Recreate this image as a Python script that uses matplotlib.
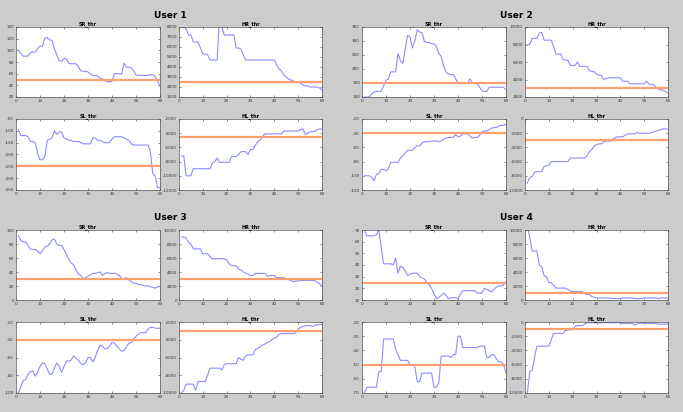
import numpy as np
import matplotlib

matplotlib.use("Agg")

import matplotlib.pyplot as plt

plt.rcParams["axes.unicode_minus"] = False

# sample index
x = np.arange(1, 61)

# ---- User 1
u1_sr = [100, 95, 90, 90, 90, 96, 97, 97, 103, 107, 107, 121, 122, 118, 117, 103, 92, 82, 81, 86,
         85, 78, 77, 77, 77, 72, 65, 64, 64, 63, 59, 57, 57, 56, 52, 51, 48, 46, 46, 47,
         60, 60, 60, 59, 78, 71, 71, 70, 65, 58, 57, 57, 57, 57, 57, 58, 58, 55, 48, 38]
u1_hr = [9000, 8000, 7800, 7200, 7200, 6500, 6500, 6500, 5900, 5300, 5300, 5200, 4700, 4700, 4700,
         4700, 9000, 8000, 7200, 7200, 7200, 7200, 7200, 5900, 5900, 5800, 5200, 4700, 4700, 4700,
         4700, 4700, 4700, 4700, 4700, 4700, 4700, 4700, 4700, 4700, 4200, 3800, 3600, 3200, 3000,
         2800, 2700, 2600, 2500, 2500, 2400, 2200, 2100, 2100, 2000, 2000, 2000, 2000, 1900, 1700]
u1_sl = [-95, -120, -120, -120, -125, -145, -145, -150, -195, -222, -222, -210, -140, -135, -130,
         -100, -115, -105, -105, -130, -135, -140, -140, -145, -145, -145, -150, -155, -155, -155,
         -155, -130, -130, -140, -140, -145, -150, -150, -150, -135, -125, -125, -125, -125, -130,
         -135, -140, -155, -160, -160, -160, -160, -160, -160, -160, -190, -280, -290, -340, -340]
u1_hl = [-7200, -7200, -10000, -10000, -10000, -9000, -9000, -9000, -9000, -9000, -9000, -9000,
         -9000, -8200, -8000, -7500, -8100, -8100, -8100, -8100, -8100, -7300, -7300, -7300, -7000,
         -6600, -6600, -6600, -7000, -6300, -6300, -5700, -5200, -5000, -4500, -4100, -4100, -4100,
         -4100, -4100, -4100, -4100, -4100, -3700, -3700, -3700, -3700, -3700, -3700, -3700, -3500,
         -3400, -4200, -4000, -3800, -3800, -3700, -3500, -3400, -3400]

# ---- User 2
u2_sr = [100, 100, 100, 110, 118, 120, 120, 120, 140, 160, 165, 190, 190, 190, 255, 230, 220, 270,
         320, 315, 275, 300, 340, 332, 330, 298, 295, 295, 290, 290, 280, 255, 245, 210, 190, 182,
         180, 180, 165, 150, 148, 148, 148, 150, 165, 150, 148, 148, 135, 122, 120, 120, 135, 135,
         135, 135, 135, 135, 135, 125]
u2_hr = [8000, 8000, 8700, 8700, 8700, 9300, 9400, 8500, 8500, 8500, 8500, 7800, 6900, 6900, 6900,
         6300, 6200, 6200, 5600, 5600, 5600, 6000, 5500, 5500, 5500, 5500, 5000, 4900, 4900, 4600,
         4500, 4500, 4000, 4100, 4200, 4200, 4200, 4200, 4200, 4200, 3800, 3800, 3800, 3500, 3500,
         3500, 3500, 3500, 3500, 3500, 3800, 3500, 3400, 3400, 3100, 2900, 2800, 2800, 2600, 2400]
u2_sl = [-100, -100, -100, -102, -107, -98, -97, -91, -91, -93, -90, -81, -81, -81, -81, -75, -72,
         -68, -64, -64, -64, -60, -58, -58, -54, -52, -52, -52, -51, -51, -51, -52, -51, -48, -47,
         -46, -46, -46, -42, -45, -44, -41, -41, -41, -44, -47, -46, -46, -43, -38, -37, -37, -35,
         -33, -32, -32, -30, -29, -29, -27]
u2_hl = [-9000, -8200, -8100, -7500, -7400, -7400, -7400, -6700, -6600, -6500, -6000, -6000, -6000,
         -6000, -6000, -6000, -6000, -6000, -5500, -5500, -5500, -5500, -5500, -5500, -5500, -5200,
         -4600, -4300, -3800, -3600, -3500, -3500, -3200, -3100, -3100, -3100, -2800, -2600, -2500,
         -2500, -2500, -2300, -2100, -2100, -2100, -2100, -1900, -2000, -2000, -2000, -2000, -2000,
         -1900, -1800, -1700, -1600, -1500, -1400, -1400, -1400]

# ---- User 3
u3_sr = [92, 85, 83, 83, 78, 73, 72, 72, 70, 66, 70, 76, 77, 80, 86, 87, 80, 78, 78, 72, 65, 58,
         53, 50, 43, 37, 35, 30, 32, 34, 36, 38, 38, 39, 40, 35, 38, 39, 38, 38, 38, 37, 35, 31,
         30, 32, 29, 26, 24, 24, 22, 22, 21, 20, 20, 19, 18, 17, 19, 19]
u3_hr = [9000, 9000, 8900, 8200, 8000, 7300, 7300, 7300, 7300, 6600, 6600, 6600, 6200, 5900, 5900,
         5900, 5900, 5900, 5900, 5700, 5200, 4900, 4900, 4900, 4400, 4300, 4000, 3800, 3700, 3500,
         3500, 3800, 3800, 3800, 3800, 3800, 3400, 3500, 3500, 3500, 3200, 3200, 3200, 3200, 3000,
         2900, 2800, 2600, 2700, 2700, 2800, 2800, 2800, 2800, 2800, 2800, 2800, 2500, 2300, 2000]
u3_sl = [-100, -93, -86, -85, -79, -76, -75, -81, -77, -70, -66, -67, -73, -79, -79, -72, -66, -70,
         -77, -70, -64, -64, -63, -58, -61, -63, -67, -68, -66, -60, -60, -65, -60, -52, -46, -47,
         -50, -50, -47, -43, -44, -47, -50, -53, -52, -48, -44, -43, -40, -36, -34, -32, -32, -32,
         -28, -26, -26, -27, -27, -27]
u3_hl = [-10000, -9700, -9000, -9000, -9000, -9000, -9700, -8700, -8700, -8700, -8700, -8000, -7200,
         -7200, -7200, -7200, -7200, -7400, -6800, -6700, -6700, -6700, -6700, -6700, -6000, -6200,
         -6300, -5800, -5700, -5700, -5700, -5100, -5000, -4800, -4600, -4500, -4300, -4200, -4000,
         -3800, -3700, -3400, -3300, -3300, -3300, -3300, -3300, -3300, -3200, -2800, -2600, -2500,
         -2400, -2400, -2400, -2500, -2400, -2300, -2300, -2300]

# ---- User 4
u4_sr = [70, 65, 65, 65, 65, 66, 70, 55, 41, 41, 41, 41, 40, 46, 33, 39, 38, 35, 31, 32, 33, 33,
         33, 30, 29, 28, 25, 23, 20, 15, 11, 12, 14, 16, 14, 11, 12, 12, 12, 11, 15, 18, 18, 18,
         18, 18, 18, 16, 16, 16, 20, 19, 18, 17, 19, 21, 22, 22, 23, 26]
u4_hr = [10500, 9000, 7000, 7000, 7000, 5000, 4800, 3500, 3300, 2500, 2500, 2100, 1700, 1700, 1700,
         1700, 1700, 1500, 1300, 1200, 1200, 1200, 1200, 1200, 900, 800, 800, 500, 400, 300, 300,
         300, 300, 300, 300, 250, 200, 200, 200, 200, 300, 300, 300, 300, 300, 200, 200, 200, 200,
         300, 300, 300, 300, 300, 300, 200, 300, 300, 300, 300]
u4_sl = [-70, -66, -66, -66, -66, -66, -55, -55, -32, -32, -32, -32, -32, -39, -43, -47, -47, -47,
         -47, -50, -50, -51, -62, -62, -56, -56, -56, -56, -56, -66, -66, -63, -44, -44, -44, -44,
         -45, -43, -43, -30, -30, -38, -38, -38, -38, -38, -38, -38, -37, -37, -37, -45, -45, -43,
         -43, -46, -48, -48, -50, -56]
u4_hl = [-10000, -7000, -6800, -5000, -3400, -3400, -3400, -3400, -3400, -3400, -2500, -1600, -1600,
         -1600, -1600, -1600, -1200, -1100, -1100, -1100, -600, -500, -500, -500, -300, -100, -100,
         -100, -100, -100, -100, -100, -100, -100, -100, -100, -100, -100, -100, -100, -200, -200,
         -200, -200, -200, -400, -300, -150, -150, -150, -200, -200, -200, -200, -200, -300, -300,
         -300, -300, -300]

titles = ["SR_thr", "HR_thr", "SL_thr", "HL_thr"]
users = [
    ("User 1", [u1_sr, u1_hr, u1_sl, u1_hl], [50, 2500, -250, -4600],
     [(20, 140, 20), (1000, 8000, 1000), (-350, -50, 50), (-12000, -2000, 2000)]),
    ("User 2", [u2_sr, u2_hr, u2_sl, u2_hl], [150, 3000, -40, -3000],
     [(100, 350, 50), (2000, 10000, 2000), (-120, -20, 20), (-10000, 0, 2000)]),
    ("User 3", [u3_sr, u3_hr, u3_sl, u3_hl], [30, 3000, -40, -3000],
     [(0, 100, 20), (0, 10000, 2000), (-100, -20, 20), (-10000, -2000, 2000)]),
    ("User 4", [u4_sr, u4_hr, u4_sl, u4_hl], [25, 1000, -50, -1000],
     [(10, 70, 10), (0, 10000, 2000), (-70, -20, 10), (-10000, 0, 2000)]),
]

W, H = 683, 412
fig = plt.figure(figsize=(W / 100, H / 100), dpi=100)
fig.patch.set_facecolor("#cccccc")

# pixel origin of each user block and the boxes inside it
block_origin = [(0, 0), (346, 0), (0, 203), (346, 203)]
col_x = [(16, 160), (179, 322)]
row_y = [(27, 97), (119, 190)]


def px_axes(l, t, r, b):
    return fig.add_axes([l / W, 1 - b / H, (r - l) / W, (b - t) / H])


for (name, series, thr, lims), (ox, oy) in zip(users, block_origin):
    fig.text((ox + 170) / W, 1 - (oy + 15) / H, name, ha="center", va="center",
             fontsize=6.5, fontweight="bold")
    for k in range(4):
        cl, cr = col_x[k % 2]
        rt, rb = row_y[k // 2]
        ax = px_axes(ox + cl, oy + rt, ox + cr, oy + rb)
        ax.plot(x, series[k], color="#8c8cff", lw=0.8)
        ax.axhline(thr[k], color="#ffa070", lw=1.6)
        lo, hi, st = lims[k]
        ax.set_xlim(0, 60)
        ax.set_ylim(lo, hi)
        ax.set_xticks(np.arange(0, 61, 10))
        ax.set_yticks(np.arange(lo, hi + st / 2, st))
        ax.tick_params(direction="in", length=1.5, width=0.4, labelsize=3,
                       top=True, right=True, pad=1.5, colors="#333333")
        for s in ax.spines.values():
            s.set_linewidth(0.5)
            s.set_color("#555555")
        ax.set_title(titles[k], fontsize=3.5, fontweight="bold", pad=1.5)

plt.savefig("out.png", dpi=100, facecolor=fig.get_facecolor())
plt.close()
